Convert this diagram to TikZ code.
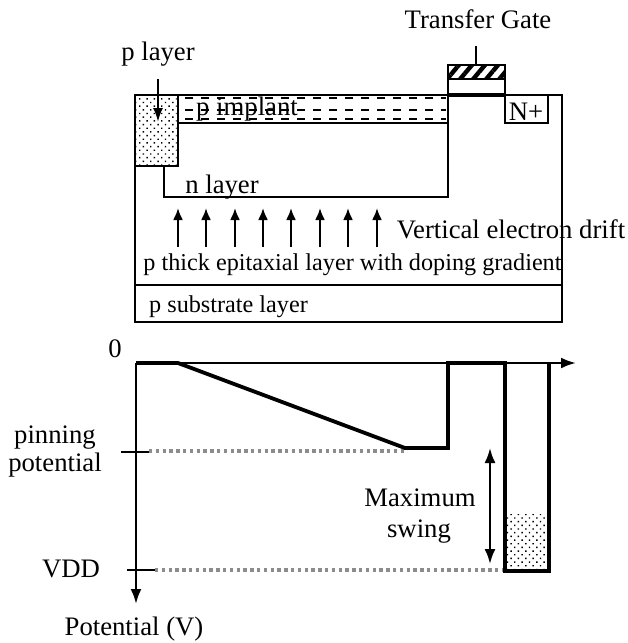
\documentclass[tikz,border=0pt]{standalone}
\usepackage{fontspec}
\setmainfont{Liberation Serif}
\usetikzlibrary{arrows.meta,patterns.meta}
\tikzset{
  x=1pt,y=-1pt,
  lbl/.style={inner sep=0pt,anchor=base,font=\fontsize{26.7}{30}\selectfont},
  lblsmall/.style={inner sep=0pt,anchor=base,font=\fontsize{24.2}{28}\selectfont},
  wall/.style={line width=2.6pt},
  thick wall/.style={line width=3.2pt},
  potline/.style={line width=3.8pt,line join=miter},
  axisline/.style={line width=2.5pt},
  tip/.style={-{Latex[length=15pt,width=11pt]}},
  driftarrow/.style={line width=2.2pt,-{Latex[length=12pt,width=10pt]}},
  dashrow/.style={line width=1.2pt,dash pattern=on 8pt off 8pt},
  greydots/.style={line width=3.2pt,color=black!45,dash pattern=on 3.4pt off 3.4pt},
  dotfill/.style={pattern={Dots[angle=45,distance=5.2pt,radius=1pt]}},
}
\begin{document}
\begin{tikzpicture}
\useasboundingbox (0,0) rectangle (627,643);
% device
\coordinate (OTL) at (135,95); \coordinate (OBR) at (562,322);
\draw[wall] (OTL) rectangle (OBR);
\coordinate (SL) at (135,285); \coordinate (SR) at (562,285);
\draw[wall] (SL) -- (SR);
% p implant
\node[lbl] (pimplant) at (247,115) {p implant};
\foreach \yy in {98,110,119} \draw[dashrow] (185,\yy) -- (446,\yy);
% n layer
\coordinate (IL) at (178,123); \coordinate (IR) at (448,123);
\draw[wall] (IL) -- (IR);
\coordinate (NA) at (164,166); \coordinate (NB) at (164,197);
\coordinate (NC) at (448,197); \coordinate (ND) at (448,95);
\draw[wall] (NA) -- (NB) -- (NC) -- (ND);
% p layer dotted box
\draw[wall,fill=white] (135,95) rectangle (178,166);
\path[dotfill] (136.5,96.5) rectangle (176.5,164.5);
\node[lbl] (player) at (158,60) {p layer};
\coordinate (pa) at (158,79); \coordinate (pb) at (158,122);
\draw[line width=2.2pt,-{Latex[length=14pt,width=10pt]}] (pa) -- (pb);
\node[lbl] (nlayer) at (222,193) {n layer};
% gate
\draw[wall,fill=white] (448,95) -- (448,65) -- (505,65) -- (505,95);
\path[pattern={Lines[angle=50,distance=10pt,line width=4.4pt]}] (449,66) rectangle (504,78);
\draw[wall] (448,65) rectangle (505,79);
\draw[thick wall] (448,95) -- (505,95);
\coordinate (st) at (476,46); \coordinate (sb) at (476,65);
\draw[line width=2.2pt] (st) -- (sb);
\node[lbl] (tg) at (478,28) {Transfer Gate};
% N+
\draw[wall,fill=white] (505,95) rectangle (548,123);
\node[lbl] (nplus) at (526,120) {N+};
% drift arrows
\foreach \xx in {178,206,235,263,291,320,348,377}
  \draw[driftarrow] (\xx,247) -- (\xx,208);
\node[lbl] (drift) at (511,238) {Vertical electron drift};
\node[lblsmall] (epi) at (352.5,270) {p thick epitaxial layer with doping gradient};
\node[lblsmall] (sub) at (228.5,312) {p substrate layer};
% potential plot
\coordinate (O) at (136,363);
\coordinate (Yend) at (136,604); \coordinate (Xend) at (576,363);
\draw[axisline,tip] (O) -- (Yend);
\draw[axisline,tip] (O) -- (Xend);
\coordinate (g1) at (149,451); \coordinate (g2) at (405,451);
\coordinate (g3) at (155,570); \coordinate (g4) at (503,570);
\draw[greydots] (g1) -- (g2);
\draw[greydots] (g3) -- (g4);
\path[dotfill] (503,514) rectangle (548,570);
\draw[potline] (136,363) -- (178,363) -- (405,448) -- (448,448) -- (448,363) -- (505,363) -- (505,571) -- (549,571) -- (549,363);
\coordinate (t1) at (121,452); \coordinate (t2) at (149,452);
\coordinate (t3) at (127,570); \coordinate (t4) at (155,570);
\draw[axisline] (t1) -- (t2);
\draw[axisline] (t3) -- (t4);
\coordinate (da) at (490,448); \coordinate (db) at (490,564);
\draw[line width=2.2pt,{Latex[length=15pt,width=11pt]}-{Latex[length=15pt,width=11pt]}] (da) -- (db);
\node[lbl] (zero) at (115,357) {0};
\node[lbl] (pin) at (55,443) {pinning};
\node[lbl] (pot2) at (55,471) {potential};
\node[lbl] (vdd) at (71,577) {VDD};
\node[lbl] (pot) at (134,635) {Potential (V)};
\node[lbl] (max) at (420,506) {Maximum};
\node[lbl] (swing) at (419,537) {swing};
\end{tikzpicture}
\end{document}
